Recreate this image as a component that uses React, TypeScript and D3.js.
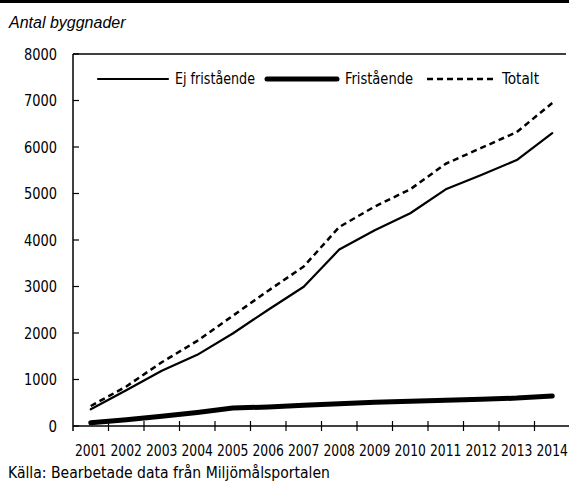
import React from "react";
import * as d3 from "d3";

const years = ["2001","2002","2003","2004","2005","2006","2007","2008","2009","2010","2011","2012","2013","2014"];
const ejFristaende = [360, 770, 1190, 1530, 1990, 2500, 2995, 3795, 4210, 4575, 5090, 5400, 5720, 6300];
const fristaende = [70, 135, 210, 290, 385, 410, 445, 480, 510, 530, 555, 575, 600, 645];
const totalt = [430, 850, 1370, 1830, 2370, 2910, 3430, 4280, 4720, 5090, 5640, 5980, 6320, 6945];
const yTicks = [0, 1000, 2000, 3000, 4000, 5000, 6000, 7000, 8000];

const W = 569, H = 484;
const left = 73, right = 570, top = 54, bottom = 426;
const FONT = "'DejaVu Sans Condensed', 'Liberation Sans Narrow', Roboto, sans-serif";

export default function App() {
  const x = d3.scaleBand<string>().domain(years).range([left, right]).padding(0);
  const y = d3.scaleLinear().domain([0, 8000]).range([bottom, top]);
  const cx = (i: number) => (x(years[i]) as number) + x.bandwidth() / 2;
  const line = d3.line<number>().x((_, i) => cx(i)).y((d) => y(d));

  const series = [
    { name: "Ej fristående", data: ejFristaende, width: 2.2, dash: undefined as string | undefined, lx: 98, tx: 175, tw: 80 },
    { name: "Fristående", data: fristaende, width: 5, dash: undefined, lx: 267, tx: 345, tw: 68 },
    { name: "Totalt", data: totalt, width: 2.5, dash: "6,4", lx: 427, tx: 502, tw: 37 },
  ];

  const txt = { fontFamily: FONT, fontStretch: "condensed" as const, fill: "#000" };

  return (
    <svg width={W} height={H} style={{ position: "fixed", left: 0, top: 0, background: "#fff" }}>
      <rect x={0} y={0} width={W} height={3} fill="#000" />
      <text x={9} y={28} fontFamily="'Liberation Sans', Arial, sans-serif" fontStyle="italic" fontSize={16} fill="#000">
        Antal byggnader
      </text>
      {/* frame */}
      <line x1={left} x2={566} y1={top} y2={top} stroke="#000" strokeWidth={1.5} />
      <line x1={left} x2={left} y1={top} y2={bottom + 5} stroke="#000" strokeWidth={1.5} />
      <line x1={left} x2={W} y1={bottom} y2={bottom} stroke="#000" strokeWidth={1.5} />
      {yTicks.map((t) => (
        <g key={t}>
          <line x1={left} x2={left + 6} y1={y(t)} y2={y(t)} stroke="#000" strokeWidth={1.2} />
          <text x={57} y={y(t) + 5.8} textAnchor="end" fontSize={16} textLength={t === 0 ? 8.5 : 33} lengthAdjust="spacingAndGlyphs" {...txt}>
            {t}
          </text>
        </g>
      ))}
      {years.slice(1).map((yr) => (
        <line key={yr} x1={x(yr) as number} x2={x(yr) as number} y1={bottom - 5} y2={bottom + 5} stroke="#000" strokeWidth={1.2} />
      ))}
      {years.map((yr, i) => (
        <text key={yr} x={cx(i) - 15.8} y={456} fontSize={16} textLength={31.4} lengthAdjust="spacingAndGlyphs" {...txt}>
          {yr}
        </text>
      ))}
      {series.map((s) => (
        <path key={s.name} d={line(s.data) as string} fill="none" stroke="#000" strokeWidth={s.width} strokeDasharray={s.dash} strokeLinecap={s.dash ? "butt" : "round"} strokeLinejoin="round" />
      ))}
      {series.map((s) => (
        <g key={s.name + "-leg"}>
          <line x1={s.lx} x2={s.lx + 70} y1={79} y2={79} stroke="#000" strokeWidth={s.width} strokeDasharray={s.dash} strokeLinecap={s.dash ? "butt" : "round"} />
          <text x={s.tx} y={84} fontSize={16} textLength={s.tw} lengthAdjust="spacingAndGlyphs" {...txt}>
            {s.name}
          </text>
        </g>
      ))}
      <text x={8} y={477.5} fontSize={15} textLength={322} lengthAdjust="spacingAndGlyphs" {...txt}>
        Källa: Bearbetade data från Miljömålsportalen
      </text>
    </svg>
  );
}
